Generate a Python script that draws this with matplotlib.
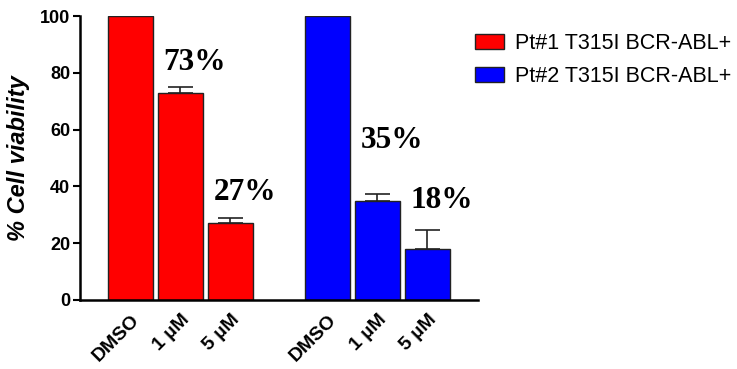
import numpy as np
import matplotlib
matplotlib.use('Agg')
import matplotlib.pyplot as plt

# viability (% of DMSO) per patient, with SEM
conditions = ['DMSO', '1 µM', '5 µM']
pt1_vals = [100, 73, 27]
pt1_err = [0, 2.0, 1.8]
pt2_vals = [100, 35, 18]
pt2_err = [0, 2.5, 6.8]
series_names = ['Pt#1 T315I BCR-ABL+', 'Pt#2 T315I BCR-ABL+']
pct_labels = ['73%', '27%', '35%', '18%']

plt.rcParams['font.family'] = ['Liberation Sans', 'DejaVu Sans']

fig = plt.figure(figsize=(7.37, 3.69), dpi=100)
ax = fig.add_axes([0.1085, 0.187, 0.54, 0.7695])

x1 = np.arange(3)
x2 = x1 + 3.94
w = 0.9
kw = dict(width=w, edgecolor='#222222', linewidth=1.0, zorder=2)
b1 = ax.bar(x1, pt1_vals, color='#ff0000', label=series_names[0], **kw)
b2 = ax.bar(x2, pt2_vals, color='#0000ff', label=series_names[1], **kw)

# one-sided (upper) error bars
for xs, vals, errs in [(x1, pt1_vals, pt1_err), (x2, pt2_vals, pt2_err)]:
    for xi, v, e in zip(xs, vals, errs):
        if e > 0:
            ax.errorbar(xi, v, yerr=[[0], [e]], fmt='none', ecolor='#222222',
                        elinewidth=1.2, capsize=9, capthick=1.2, zorder=3)

# percentage annotations
txt_pos = [(x1[1] + 0.29, 83.8), (x1[2] + 0.29, 37.7),
           (x2[1] + 0.29, 56.3), (x2[2] + 0.29, 35.2)]
for (tx, ty), s in zip(txt_pos, pct_labels):
    ax.text(tx, ty, s, ha='center', va='center', fontsize=22.5, fontweight='bold',
            family=['Liberation Serif', 'DejaVu Serif'])

ax.set_xlim(-1.01, 6.95)
ax.set_ylim(0, 100)
ax.set_yticks([0, 20, 40, 60, 80, 100])
ax.tick_params(axis='y', direction='out', length=5, width=1.5, labelsize=13, pad=2)
for lab in ax.get_yticklabels():
    lab.set_fontweight('bold')
ax.set_xticks(np.concatenate([x1, x2]))
ax.set_xticklabels(conditions * 2, rotation=45, ha='right', rotation_mode='anchor',
                   fontsize=14, fontweight='bold')
ax.tick_params(axis='x', length=0, pad=8)

for side in ['top', 'right']:
    ax.spines[side].set_visible(False)
ax.spines['left'].set_linewidth(1.8)
ax.spines['bottom'].set_linewidth(1.8)

ax.set_ylabel('% Cell viability', fontsize=17, fontweight='bold', style='italic', labelpad=7)

fig.legend(handles=[b1, b2], loc='upper left', bbox_to_anchor=(0.618, 0.962),
           frameon=False, fontsize=15.5, handlelength=1.35, handleheight=0.7,
           handletextpad=0.5, labelspacing=0.55)

plt.savefig('out.png', dpi=100)
